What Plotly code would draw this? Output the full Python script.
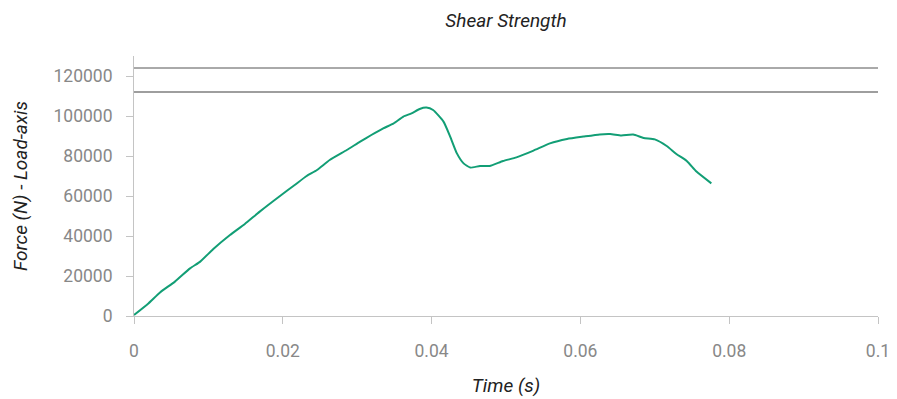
import plotly.graph_objects as go

time_s = [0.0, 0.00193, 0.0035, 0.0055, 0.00753, 0.0089, 0.01066, 0.0129, 0.0149, 0.0169,
          0.0198, 0.0216, 0.0232, 0.0246, 0.0263, 0.0286, 0.0304, 0.0319, 0.0335, 0.0349,
          0.0362, 0.0373, 0.0384, 0.0393, 0.0402, 0.0416, 0.0425, 0.0434, 0.0443, 0.0452,
          0.0465, 0.0478, 0.0496, 0.0514, 0.0537, 0.0559, 0.0582, 0.0604, 0.0626, 0.0640,
          0.0655, 0.0671, 0.0685, 0.0700, 0.0716, 0.0729, 0.0743, 0.0756, 0.0776]
force_n = [500, 6300, 11800, 17200, 23800, 27200, 33500, 40500, 46000, 52200,
           60500, 65500, 70000, 73000, 78000, 83000, 87200, 90500, 93800, 96300,
           99700, 101300, 103500, 104200, 103000, 97200, 89700, 81300, 76300, 74200,
           75000, 75000, 77500, 79300, 82700, 86300, 88500, 89700, 90800, 91000,
           90300, 90700, 89000, 88300, 85000, 81000, 77500, 72200, 66300]

limit_values = [124000, 112000]
limit_colors = ["#555555", "#9e9e9e"]
limit_widths = [1, 2]

x_ticks = [0, 0.02, 0.04, 0.06, 0.08, 0.1]
x_tick_labels = ["0", "0.02", "0.04", "0.06", "0.08", "0.1"]
y_ticks = [0, 20000, 40000, 60000, 80000, 100000, 120000]

fig = go.Figure()
fig.add_trace(go.Scatter(x=time_s, y=force_n, mode="lines",
                         line=dict(color="#129e75", width=2, shape="spline", smoothing=0.5),
                         showlegend=False, hoverinfo="x+y"))

for val, col, w in zip(limit_values, limit_colors, limit_widths):
    fig.add_shape(type="line", xref="paper", x0=0, x1=1, yref="y", y0=val, y1=val,
                  line=dict(color=col, width=w))

fig.update_layout(
    width=897, height=399,
    margin=dict(l=134, r=19, t=56, b=83, autoexpand=False),
    paper_bgcolor="white", plot_bgcolor="white",
    font=dict(family="Roboto", color="#888888", size=17.5),
    title=dict(text="<i>Shear Strength</i>", x=0.5, xanchor="center", xref="paper",
               y=0.95, yanchor="middle", font=dict(family="Roboto", size=19, color="#222222")),
    xaxis=dict(range=[0, 0.1], tickvals=x_ticks, ticktext=x_tick_labels, automargin=False,
               showgrid=False, zeroline=False, showline=True, linecolor="#c4c4c4", linewidth=1,
               ticks="outside", ticklen=7, tickcolor="#c4c4c4", ticklabelstandoff=12,
               tickfont=dict(family="Roboto", size=17.5, color="#888888"),
               title=dict(text="<i>Time (s)</i>", standoff=18,
                          font=dict(family="Roboto", size=19, color="#222222"))),
    yaxis=dict(range=[0, 130000], tickvals=y_ticks, tickformat="d", automargin=False,
               showgrid=False, zeroline=False, showline=True, linecolor="#c4c4c4", linewidth=1,
               ticks="outside", ticklen=7, tickcolor="#c4c4c4", ticklabelstandoff=10,
               tickfont=dict(family="Roboto", size=17.5, color="#888888"),
               title=dict(text="<i>Force (N) - Load-axis</i>", standoff=20,
                          font=dict(family="Roboto", size=19, color="#222222"))),
)

fig.write_html("out.html")
